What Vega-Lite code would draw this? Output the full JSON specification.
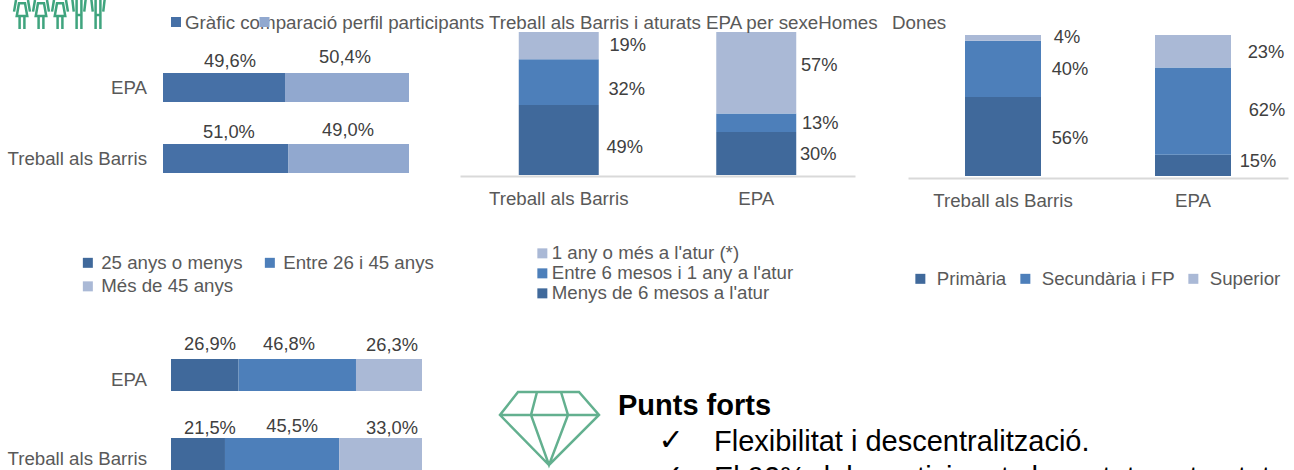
{
"$schema":"https://vega.github.io/schema/vega-lite/v6.json",
"width":1294,"height":470,"autosize":{"type":"none"},"padding":0,"background":"white",
"config":{"view":{"stroke":null},
"text":{"font":"Liberation Sans","fontSize":18.3,"fill":"#404040","baseline":"middle","align":"center"},
"axis":{"labelFont":"Liberation Sans","labelFontSize":18.7,"labelColor":"#595959","ticks":false,"grid":false,"title":null,"domain":false},
"legend":{"labelFont":"Liberation Sans","labelFontSize":18.7,"labelColor":"#595959","symbolType":"square","symbolSize":100,"symbolStrokeWidth":0,"title":null,"labelLimit":400}},
"datasets":{
"sexe":[{"mostra":"EPA","sexe":"Homes","valor":49.6,"etiqueta":"49,6%"},{"mostra":"EPA","sexe":"Dones","valor":50.4,"etiqueta":"50,4%"},{"mostra":"Treball als Barris","sexe":"Homes","valor":51.0,"etiqueta":"51,0%"},{"mostra":"Treball als Barris","sexe":"Dones","valor":49.0,"etiqueta":"49,0%"}],
"edat":[{"mostra":"EPA","edat":"25 anys o menys","valor":26.9,"etiqueta":"26,9%"},{"mostra":"EPA","edat":"Entre 26 i 45 anys","valor":46.8,"etiqueta":"46,8%"},{"mostra":"EPA","edat":"Més de 45 anys","valor":26.3,"etiqueta":"26,3%"},{"mostra":"Treball als Barris","edat":"25 anys o menys","valor":21.5,"etiqueta":"21,5%"},{"mostra":"Treball als Barris","edat":"Entre 26 i 45 anys","valor":45.5,"etiqueta":"45,5%"},{"mostra":"Treball als Barris","edat":"Més de 45 anys","valor":33.0,"etiqueta":"33,0%"}],
"atur":[{"mostra":"Treball als Barris","durada":"Menys de 6 mesos a l'atur","valor":49,"etiqueta":"49%"},{"mostra":"Treball als Barris","durada":"Entre 6 mesos i 1 any a l'atur","valor":32,"etiqueta":"32%"},{"mostra":"Treball als Barris","durada":"1 any o més a l'atur (*)","valor":19,"etiqueta":"19%"},{"mostra":"EPA","durada":"Menys de 6 mesos a l'atur","valor":30,"etiqueta":"30%"},{"mostra":"EPA","durada":"Entre 6 mesos i 1 any a l'atur","valor":13,"etiqueta":"13%"},{"mostra":"EPA","durada":"1 any o més a l'atur (*)","valor":57,"etiqueta":"57%"}],
"estudis":[{"mostra":"Treball als Barris","nivell":"Primària","valor":56,"etiqueta":"56%"},{"mostra":"Treball als Barris","nivell":"Secundària i FP","valor":40,"etiqueta":"40%"},{"mostra":"Treball als Barris","nivell":"Superior","valor":4,"etiqueta":"4%"},{"mostra":"EPA","nivell":"Primària","valor":15,"etiqueta":"15%"},{"mostra":"EPA","nivell":"Secundària i FP","valor":62,"etiqueta":"62%"},{"mostra":"EPA","nivell":"Superior","valor":23,"etiqueta":"23%"}],
"titol":[{"text":"Gràfic comparació perfil participants Treball als Barris i aturats EPA per sexeHomes","fila":"a"},{"text":"Dones","fila":"a"}],
"series":[{"serie":"Homes","fila":"a"},{"serie":"Dones","fila":"a"}],
"persones":[{"id":"d1","tipus":"dona","fila":"a"},{"id":"h1","tipus":"home","fila":"a"},{"id":"d2","tipus":"dona","fila":"a"},{"id":"h2","tipus":"home","fila":"a"},{"id":"d3","tipus":"dona","fila":"a"}],
"diamant":[{"id":"punts forts"}],
"punts":[{"text":"Punts forts","columna":"titol","fila":"1"},{"text":"Flexibilitat i descentralització.","columna":"cos","fila":"2"},{"text":"El 92% dels participants ha estat contractat","columna":"cos","fila":"3"}],
"checks":[{"text":"✓","fila":"2"},{"text":"✓","fila":"3"}]
},
"resolve":{"scale":{"x":"independent","y":"independent","color":"independent","fill":"independent"}},
"layer":[
{"data":{"name":"sexe"},"transform":[{"stack":"valor","groupby":["mostra"],"as":["v0","v1"]}],
"encoding":{"y":{"field":"mostra","type":"nominal","sort":null,"scale":{"domain":["EPA","Treball als Barris"],"range":[73,173],"paddingInner":0.5915,"paddingOuter":0},"axis":{"orient":"left","offset":-146.5,"labelPadding":0,"labelOffset":0.5}},
"x":{"field":"v1","type":"quantitative","scale":{"domain":[0,100],"range":[163,409]},"axis":null},"text":{"field":"etiqueta"}},
"layer":[
{"mark":{"type":"bar"},"encoding":{"x":{"field":"v0","type":"quantitative","scale":{"domain":[0,100],"range":[163,409]},"axis":null},"x2":{"field":"v1"},"text":null,"color":{"field":"sexe","type":"nominal","scale":{"domain":["Homes","Dones"],"range":["#4670A6","#91A8CF"]},"legend":null}}},
{"transform":[{"filter":"datum.etiqueta=='49,6%'"}],"mark":{"type":"text","dx":-55,"dy":-25.5}},
{"transform":[{"filter":"datum.etiqueta=='50,4%'"}],"mark":{"type":"text","dx":-64,"dy":-29.5}},
{"transform":[{"filter":"datum.etiqueta=='51,0%'"}],"mark":{"type":"text","dx":-59.5,"dy":-25.5}},
{"transform":[{"filter":"datum.etiqueta=='49,0%'"}],"mark":{"type":"text","dx":-61,"dy":-27.5}}
]},
{"data":{"name":"edat"},"transform":[{"stack":"valor","groupby":["mostra"],"as":["v0","v1"]}],
"encoding":{"y":{"field":"mostra","type":"nominal","sort":null,"scale":{"domain":["EPA","Treball als Barris"],"range":[359,470],"paddingInner":0.595,"paddingOuter":0},"axis":{"orient":"left","offset":-146.5,"labelPadding":0,"labelOffset":5}},
"x":{"field":"v1","type":"quantitative","scale":{"domain":[0,100],"range":[171,422]},"axis":null},"text":{"field":"etiqueta"}},
"layer":[
{"mark":{"type":"bar"},"encoding":{"x":{"field":"v0","type":"quantitative","scale":{"domain":[0,100],"range":[171,422]},"axis":null},"x2":{"field":"v1"},"text":null,"color":{"field":"edat","type":"nominal","scale":{"domain":["25 anys o menys","Entre 26 i 45 anys","Més de 45 anys"],"range":["#40699B","#4D7FBA","#AAB9D6"]},"legend":{"orient":"none","direction":"horizontal","legendX":78.5,"legendY":253,"columns":2,"columnPadding":18,"rowPadding":4,"labelOffset":4}}}},
{"transform":[{"filter":"datum.etiqueta=='26,9%'"}],"mark":{"type":"text","dx":-28.5,"dy":-30}},
{"transform":[{"filter":"datum.etiqueta=='46,8%'"}],"mark":{"type":"text","dx":-67,"dy":-30}},
{"transform":[{"filter":"datum.etiqueta=='26,3%'"}],"mark":{"type":"text","dx":-30,"dy":-29}},
{"transform":[{"filter":"datum.etiqueta=='21,5%'"}],"mark":{"type":"text","dx":-15,"dy":-25}},
{"transform":[{"filter":"datum.etiqueta=='45,5%'"}],"mark":{"type":"text","dx":-47,"dy":-27}},
{"transform":[{"filter":"datum.etiqueta=='33,0%'"}],"mark":{"type":"text","dx":-30,"dy":-25}}
]},
{"data":{"name":"atur"},"transform":[{"stack":"valor","groupby":["mostra"],"as":["v0","v1"]}],
"encoding":{"x":{"field":"mostra","type":"nominal","sort":null,"scale":{"domain":["Treball als Barris","EPA"],"range":[460,855],"paddingInner":0.595,"paddingOuter":0.2975},"axis":{"orient":"bottom","offset":-294,"domain":true,"domainColor":"#D9D9D9","domainWidth":2,"labelPadding":22,"labelAngle":0,"labelBaseline":"middle"}},
"y":{"field":"v1","type":"quantitative","scale":{"domain":[0,100],"range":[175,32]},"axis":null},"text":{"field":"etiqueta"}},
"layer":[
{"mark":{"type":"bar"},"encoding":{"y":{"field":"v0","type":"quantitative","scale":{"domain":[0,100],"range":[175,32]},"axis":null},"y2":{"field":"v1"},"text":null,"color":{"field":"durada","type":"nominal","scale":{"domain":["1 any o més a l'atur (*)","Entre 6 mesos i 1 any a l'atur","Menys de 6 mesos a l'atur"],"range":["#AAB9D6","#4D7FBA","#40699B"]},"legend":{"orient":"none","legendX":533,"legendY":244,"columns":1,"rowPadding":0,"labelOffset":0}}}},
{"transform":[{"filter":"datum.etiqueta=='19%'"}],"mark":{"type":"text","dx":69,"dy":14}},
{"transform":[{"filter":"datum.etiqueta=='32%'"}],"mark":{"type":"text","dx":68,"dy":31}},
{"transform":[{"filter":"datum.etiqueta=='49%'"}],"mark":{"type":"text","dx":66,"dy":43}},
{"transform":[{"filter":"datum.etiqueta=='57%'"}],"mark":{"type":"text","dx":63,"dy":34}},
{"transform":[{"filter":"datum.etiqueta=='13%'"}],"mark":{"type":"text","dx":64,"dy":10.5}},
{"transform":[{"filter":"datum.etiqueta=='30%'"}],"mark":{"type":"text","dx":62,"dy":23}}
]},
{"data":{"name":"estudis"},"transform":[{"stack":"valor","groupby":["mostra"],"as":["v0","v1"]}],
"encoding":{"x":{"field":"mostra","type":"nominal","sort":null,"scale":{"domain":["Treball als Barris","EPA"],"range":[908,1288],"paddingInner":0.6,"paddingOuter":0.3},"axis":{"orient":"bottom","offset":-292,"domain":true,"domainColor":"#D9D9D9","domainWidth":2,"labelPadding":22,"labelAngle":0,"labelBaseline":"middle"}},
"y":{"field":"v1","type":"quantitative","scale":{"domain":[0,100],"range":[176,35]},"axis":null},"text":{"field":"etiqueta"}},
"layer":[
{"mark":{"type":"bar"},"encoding":{"y":{"field":"v0","type":"quantitative","scale":{"domain":[0,100],"range":[176,35]},"axis":null},"y2":{"field":"v1"},"text":null,"color":{"field":"nivell","type":"nominal","scale":{"domain":["Primària","Secundària i FP","Superior"],"range":["#40699B","#4D7FBA","#AAB9D6"]},"legend":{"orient":"none","direction":"horizontal","legendX":911,"legendY":269,"columns":3,"columnPadding":9,"labelOffset":7}}}},
{"transform":[{"filter":"datum.etiqueta=='4%'"}],"mark":{"type":"text","dx":64,"dy":3}},
{"transform":[{"filter":"datum.etiqueta=='40%'"}],"mark":{"type":"text","dx":67,"dy":29.4}},
{"transform":[{"filter":"datum.etiqueta=='56%'"}],"mark":{"type":"text","dx":67,"dy":42}},
{"transform":[{"filter":"datum.etiqueta=='23%'"}],"mark":{"type":"text","dx":73,"dy":18}},
{"transform":[{"filter":"datum.etiqueta=='62%'"}],"mark":{"type":"text","dx":74,"dy":43.6}},
{"transform":[{"filter":"datum.etiqueta=='15%'"}],"mark":{"type":"text","dx":65,"dy":7}}
]},
{"data":{"name":"titol"},"mark":{"type":"text","align":"left","fill":"#595959","fontSize":18.76},"encoding":{"text":{"field":"text"},
"x":{"field":"text","type":"nominal","sort":null,"scale":{"type":"point","range":[185,892],"padding":0},"axis":null},
"y":{"field":"fila","type":"nominal","scale":{"type":"point","range":[22.5,22.5]},"axis":null}}},
{"data":{"name":"series"},"mark":{"type":"point","shape":"square","filled":true,"size":100,"opacity":1},"encoding":{
"x":{"field":"serie","type":"nominal","sort":null,"scale":{"type":"point","range":[176,264.5],"padding":0},"axis":null},
"y":{"field":"fila","type":"nominal","scale":{"type":"point","range":[22,22]},"axis":null},
"color":{"field":"serie","type":"nominal","scale":{"domain":["Homes","Dones"],"range":["#4670A6","#91A8CF"]},"legend":null}}},
{"data":{"name":"persones"},"encoding":{
"x":{"field":"id","type":"nominal","sort":null,"scale":{"type":"point","range":[22,98],"padding":0},"axis":null},
"y":{"field":"fila","type":"nominal","scale":{"type":"point","range":[14.5,14.5]},"axis":null}},
"layer":[
{"transform":[{"filter":"datum.tipus=='dona'"}],"mark":{"type":"point","filled":false,"size":900,"stroke":"#3FA47E","strokeWidth":2.5,"opacity":1,"shape":"M-0.2 -0.75L-0.35 0.1L0.35 0.1L0.2 -0.75ZM-0.16 0.1L-0.16 0.97M0.16 0.1L0.16 0.97M-0.4 -0.97L-0.53 -0.19M0.4 -0.97L0.53 -0.19"}},
{"transform":[{"filter":"datum.tipus=='home'"}],"mark":{"type":"point","filled":false,"size":900,"stroke":"#3FA47E","strokeWidth":2.5,"opacity":1,"shape":"M-0.16 -0.97L-0.16 0.97M0.16 -0.97L0.16 0.97M-0.16 0.03L0.16 0.03M-0.44 -0.97L-0.35 -0.19M0.44 -0.97L0.35 -0.19"}}
]},
{"data":{"name":"diamant"},"mark":{"type":"point","filled":false,"size":10000,"stroke":"#63B08F","strokeWidth":2.5,"opacity":1,"shape":"M-0.63 -0.73L0.59 -0.73L0.99 -0.27L-0.01 0.73L-0.99 -0.27ZM-0.99 -0.27L0.99 -0.27M-0.25 -0.73L-0.37 -0.27L-0.01 0.73L0.37 -0.27L0.23 -0.73"},"encoding":{
"x":{"field":"id","type":"nominal","scale":{"type":"point","range":[549.5,549.5]},"axis":null},
"y":{"field":"id","type":"nominal","scale":{"type":"point","range":[428.5,428.5]},"axis":null}}},
{"data":{"name":"punts"},"encoding":{"text":{"field":"text"},
"x":{"field":"columna","type":"nominal","sort":null,"scale":{"domain":["titol","cos"],"type":"point","range":[618,714],"padding":0},"axis":null},
"y":{"field":"fila","type":"nominal","sort":null,"scale":{"domain":["1","2","3"],"type":"point","range":[406,478],"padding":0},"axis":null}},
"layer":[
{"transform":[{"filter":"datum.columna=='titol'"}],"mark":{"type":"text","align":"left","fontSize":29,"fontWeight":"bold","fill":"#000000"}},
{"transform":[{"filter":"datum.columna=='cos'"}],"mark":{"type":"text","align":"left","fontSize":29,"fill":"#000000"}}
]},
{"data":{"name":"checks"},"mark":{"type":"text","font":"DejaVu Sans","fontSize":30,"fill":"#000000"},"encoding":{"text":{"field":"text"},
"x":{"field":"text","type":"nominal","scale":{"type":"point","range":[671,671]},"axis":null},
"y":{"field":"fila","type":"nominal","sort":null,"scale":{"type":"point","range":[441,477],"padding":0},"axis":null}}}
]}
